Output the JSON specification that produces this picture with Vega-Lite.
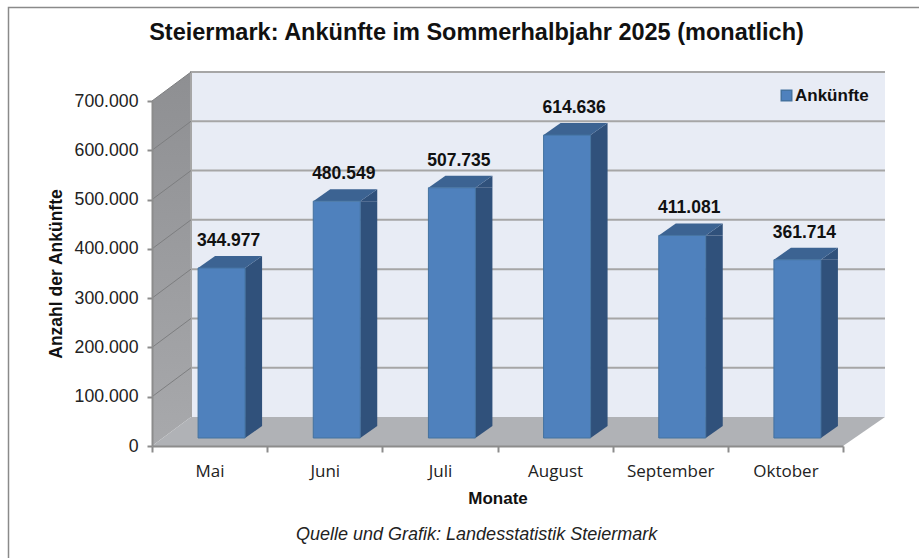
{
"$schema":"https://vega.github.io/schema/vega-lite/v6.json",
"width":691,"height":345,"autosize":"none",
"padding":{"left":152,"top":101,"right":76,"bottom":112},
"background":"white",
"config":{"view":{"stroke":null},"locale":{"number":{"decimal":",","thousands":".","grouping":[3],"currency":["","€"]}}},
"title":{"text":"Steiermark: Ankünfte im Sommerhalbjahr 2025 (monatlich)","anchor":"middle","dx":-21,"offset":-40,"font":"Liberation Sans","fontSize":23.5,"fontWeight":"bold","color":"#111111"},
"datasets":{
"monate":[{"Monat":"Mai","Anzahl":344977},{"Monat":"Juni","Anzahl":480549},{"Monat":"Juli","Anzahl":507735},{"Monat":"August","Anzahl":614636},{"Monat":"September","Anzahl":411081},{"Monat":"Oktober","Anzahl":361714}],
"gitter":[{"Monat":"Mai","Anzahl":100000},{"Monat":"Mai","Anzahl":200000},{"Monat":"Mai","Anzahl":300000},{"Monat":"Mai","Anzahl":400000},{"Monat":"Mai","Anzahl":500000},{"Monat":"Mai","Anzahl":600000},{"Monat":"Mai","Anzahl":700000}],
"basis":[{"Monat":"Mai","Anzahl":0},{"Monat":"Juni","Anzahl":0},{"Monat":"Juli","Anzahl":0},{"Monat":"August","Anzahl":0},{"Monat":"September","Anzahl":0},{"Monat":"Oktober","Anzahl":0}],
"anker":[{"Monat":"Mai","Anzahl":0}]
},
"encoding":{
"x":{"field":"Monat","type":"nominal","sort":["Mai","Juni","Juli","August","September","Oktober"],
 "scale":{"domain":["Mai","Juni","Juli","August","September","Oktober"],"paddingInner":0,"paddingOuter":0},
 "title":"Monate",
 "axis":{"titleFont":"Liberation Sans","titleFontSize":17,"titleFontWeight":"bold","titleColor":"#111111","titlePadding":11,"labelAngle":0,"labelFont":"Open Sans","labelFontSize":17,"labelColor":"#222222","labelPadding":11,"tickBand":"extent","tickSize":6,"tickColor":"#8c8c8c","tickWidth":2,"domainColor":"#8c8c8c","domainWidth":2,"zindex":1}},
"y":{"field":"Anzahl","type":"quantitative","title":"Anzahl der Ankünfte","scale":{"domain":[0,700000],"nice":false,"zero":true},
 "axis":{"titleFont":"Liberation Sans","titleFontSize":17.5,"titleFontWeight":"bold","titleColor":"#111111","titlePadding":9,"labelFont":"Liberation Sans","labelFontSize":17.7,"labelColor":"#222222","labelPadding":9,"format":",.0f","values":[0,100000,200000,300000,400000,500000,600000,700000],"tickSize":5,"tickColor":"#8c8c8c","tickWidth":2,"domainColor":"#8c8c8c","domainWidth":2,"grid":false,"zindex":1}}
},
"layer":[
{"data":{"name":"anker"},"mark":{"type":"point","shape":"M-143.5,115 V-438.5 H770","size":4,"filled":false,"stroke":"#8a8a8a","strokeWidth":1.5,"opacity":1},"encoding":{"x":{"field":"Monat","type":"nominal","bandPosition":0,"title":"Monate"}}},
{"data":{"name":"anker"},"mark":{"type":"point","shape":"M39,-29 H733 V-374 H39 Z","size":4,"filled":true,"fill":"#e8ecf5","opacity":1},"encoding":{"x":{"field":"Monat","type":"nominal","bandPosition":0,"title":"Monate"}}},
{"data":{"name":"anker"},"mark":{"type":"point","shape":"M0,0 L39,-29 V-374 L0,-345 Z","size":4,"filled":true,"opacity":1,"fill":{"gradient":"linear","x1":0,"y1":0,"x2":0,"y2":1,"stops":[{"offset":0,"color":"#8e8f92"},{"offset":1,"color":"#a8a9ac"}]}},"encoding":{"x":{"field":"Monat","type":"nominal","bandPosition":0,"title":"Monate"}}},
{"data":{"name":"anker"},"mark":{"type":"point","shape":"M39,-29 V-374 H733","size":4,"filled":false,"stroke":"#a6a6a6","strokeWidth":2,"opacity":1},"encoding":{"x":{"field":"Monat","type":"nominal","bandPosition":0,"title":"Monate"}}},
{"data":{"name":"gitter"},"mark":{"type":"point","shape":"M39,-29 H733","size":4,"filled":false,"stroke":"#a6a6a6","strokeWidth":2,"opacity":1},"encoding":{"x":{"field":"Monat","type":"nominal","bandPosition":0,"title":"Monate"}}},
{"data":{"name":"gitter"},"mark":{"type":"point","shape":"M0,0 L39,-29","size":4,"filled":false,"stroke":"#7d7e80","strokeWidth":1,"opacity":1},"encoding":{"x":{"field":"Monat","type":"nominal","bandPosition":0,"title":"Monate"}}},
{"data":{"name":"anker"},"mark":{"type":"point","shape":"M0,0 L39,-29 H733 L691,0 Z","size":4,"filled":true,"fill":"#b0b2b6","opacity":1},"encoding":{"x":{"field":"Monat","type":"nominal","bandPosition":0,"title":"Monate"}}},
{"data":{"name":"monate"},"mark":{"type":"bar","size":17,"xOffset":44,"yOffset":-8,"y2Offset":-20,"fill":"#30517b"},"encoding":{"y2":{"datum":0}}},
{"data":{"name":"monate"},"mark":{"type":"point","shape":"M35.5,-8 L52.5,-20 V-8 Z","size":4,"filled":true,"fill":"#30517b","opacity":1}},
{"data":{"name":"basis"},"mark":{"type":"point","shape":"M35.5,-8 L52.5,-20 H35.5 Z","size":4,"filled":true,"fill":"#30517b","opacity":1}},
{"data":{"name":"monate"},"mark":{"type":"point","shape":"M-11.5,-8 L35.5,-8 L52.5,-20 L5.5,-20 Z","size":4,"filled":true,"fill":"#3c6392","opacity":1}},
{"data":{"name":"monate"},"mark":{"type":"bar","size":47,"xOffset":12,"yOffset":-8,"y2Offset":-8,"stroke":"#44729f","strokeWidth":1},
 "encoding":{"y2":{"datum":0},"color":{"datum":"Ankünfte","scale":{"range":["#4f81bd"]},"legend":{"title":null,"orient":"none","legendX":626,"legendY":-14,"symbolType":"square","symbolSize":110,"symbolStrokeColor":"#44729f","labelFont":"Liberation Sans","labelFontSize":17,"labelFontWeight":"bold","labelColor":"#111111","labelOffset":0}}}},
{"data":{"name":"monate"},"mark":{"type":"text","font":"Liberation Sans","fontSize":17.5,"fontWeight":"bold","color":"#111111","dx":19,"dy":-35,"baseline":"middle"},"encoding":{"text":{"field":"Anzahl","type":"quantitative","format":",.0f"}}},
{"data":{"values":[{"Monat":"Mai","Anzahl":0,"Text":"Quelle und Grafik: Landesstatistik Steiermark"}]},"mark":{"type":"text","font":"Liberation Sans","fontSize":18,"fontStyle":"italic","color":"#222222","align":"center","baseline":"middle","dx":267,"dy":89},"encoding":{"text":{"field":"Text"}}}
]
}
